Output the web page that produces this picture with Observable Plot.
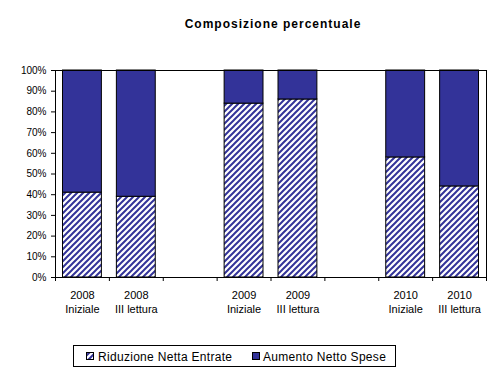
<!DOCTYPE html>
<html><head><meta charset="utf-8">
<script src="https://cdn.jsdelivr.net/npm/d3@7"></script>
<script src="https://cdn.jsdelivr.net/npm/@observablehq/plot@0.6"></script>
<style>
body{margin:0;background:#fff;font-family:"Liberation Sans",Arial,sans-serif;}
#wrap{position:relative;width:490px;height:378px;overflow:hidden;}
#wrap svg{position:absolute;}
#title{position:absolute;left:0;top:18px;width:546px;text-align:center;font-weight:bold;font-size:12px;line-height:12px;letter-spacing:1px;color:#000;}
</style></head>
<body><div id="wrap"><div id="title">Composizione percentuale</div></div>
<script>
const years = ["2008","2008","","2009","2009","","2010","2010"];
const stages = ["Iniziale","III lettura","","Iniziale","III lettura","","Iniziale","III lettura"];
const riduzione = [0.41,0.39,null,0.84,0.86,null,0.58,0.44];
const series = ["Riduzione Netta Entrate","Aumento Netto Spese"];
const fills = ["url(#hatch)","#333399"];
const yTicks = [0,0.1,0.2,0.3,0.4,0.5,0.6,0.7,0.8,0.9,1];

const slots = d3.range(years.length);
const data = [];
slots.forEach(i => {
  const r = riduzione[i];
  if (r == null) return;
  data.push({slot:i, series:series[0], value:r});
  data.push({slot:i, series:series[1], value:1 - r});
});

const W = 490, H = 378, mL = 55, mR = 4, mT = 70, mB = 101;
const bw = (W - mL - mR) / slots.length;

const defs = () => {
  const d = d3.create("svg:defs");
  const p = d.append("pattern").attr("id","hatch").attr("patternUnits","userSpaceOnUse")
    .attr("width",6).attr("height",6);
  p.append("rect").attr("width",6).attr("height",6).attr("fill","#fff");
  p.append("path").attr("d","M-1,1 l2,-2 M0,6 l6,-6 M5,7 l2,-2")
    .attr("stroke","#333399").attr("stroke-width",2);
  return d.node();
};

const chart = Plot.plot({
  width: W, height: H,
  marginLeft: mL, marginRight: mR, marginTop: mT, marginBottom: mB,
  style: {fontFamily: "'Liberation Sans', Arial, sans-serif", color: "#000", background: "#fff"},
  x: {type: "band", domain: slots, padding: 0, round: false, label: null},
  y: {domain: [0,1], label: null},
  color: {type: "identity"},
  marks: [
    defs,
    Plot.barY(data, {x: "slot", y: "value", fill: d => fills[series.indexOf(d.series)],
      stroke: "#000", strokeWidth: 1, insetLeft: 7.5, insetRight: 7.5}),
    Plot.frame({stroke: "#000"}),
    Plot.axisY({ticks: yTicks, tickFormat: d3.format(".0%"), tickSize: 4, tickPadding: 5, fontSize: 10, label: null}),
    Plot.axisX({ticks: slots, tickSize: 4, tickFormat: () => "", dx: -bw/2, label: null}),
    Plot.axisX({ticks: [slots[slots.length-1]], tickSize: 4, tickFormat: () => "", dx: bw/2, label: null}),
    Plot.axisX({ticks: slots, tickSize: 0, tickPadding: 12, fontSize: 11, lineHeight: 1.27, label: null,
      tickFormat: i => years[i] ? years[i] + "\n" + stages[i] : ""})
  ]
});
const wrap = document.getElementById("wrap");
wrap.insertBefore(chart, wrap.firstChild);

// legend
const lg = d3.select(wrap).append("svg").attr("width",324).attr("height",23)
  .style("left","73px").style("top","345px")
  .style("font-family","'Liberation Sans', Arial, sans-serif");
lg.append("rect").attr("x",0.5).attr("y",0.5).attr("width",322).attr("height",21)
  .attr("fill","#fff").attr("stroke","#000");
const xs = [[13,25],[179,190]];
series.forEach((s,i) => {
  lg.append("rect").attr("x",xs[i][0]+0.5).attr("y",7.5).attr("width",7).attr("height",7)
    .attr("fill",fills[i]).attr("stroke","#000");
  lg.append("text").attr("x",xs[i][1]).attr("y",16).attr("font-size",12)
    .attr("letter-spacing",0.3).attr("fill","#000").text(s);
});
</script></body></html>
